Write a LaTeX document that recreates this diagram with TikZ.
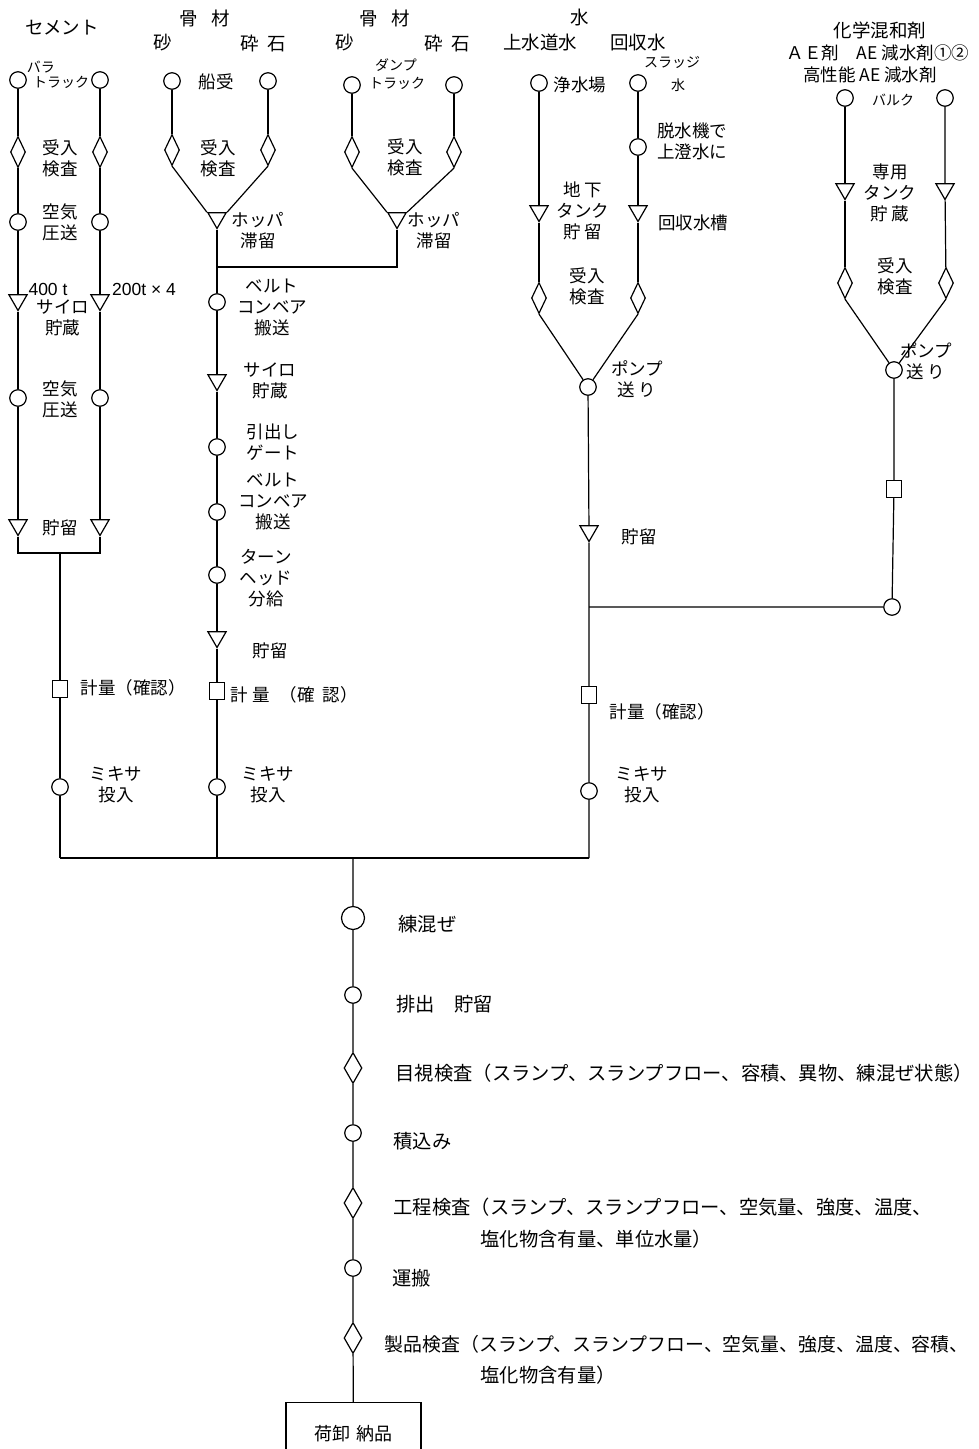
\documentclass[tikz,border=0pt]{standalone}
\usepackage{fontspec}
\usetikzlibrary{shapes.geometric}
\newfontfamily\jp{Noto Sans CJK JP}
\newfontfamily\lat{Liberation Sans}
\begin{document}
\begin{tikzpicture}[x=1pt,y=-1pt,line width=1.2pt,
  circ/.style={circle,draw,fill=white,minimum size=16.5pt,inner sep=0pt},
  bigc/.style={circle,draw,fill=white,minimum size=23pt,inner sep=0pt},
  dia/.style={diamond,draw,fill=white,minimum width=15pt,minimum height=31pt,inner sep=0pt},
  tri/.style={regular polygon,regular polygon sides=3,shape border rotate=180,draw,fill=white,minimum size=21pt,inner sep=0pt},
  sq/.style={rectangle,draw,fill=white,minimum width=15pt,minimum height=17pt,inner sep=0pt},
  lab/.style={font=\jp\fontsize{17.5}{21}\selectfont,align=center,inner sep=0pt},
  sm/.style={font=\jp\fontsize{14}{17}\selectfont,align=center,inner sep=0pt},
  hdr/.style={font=\jp\fontsize{18.5}{22}\selectfont,align=center,inner sep=0pt},
  num/.style={font=\lat\fontsize{17.5}{20}\selectfont,inner sep=0pt},
  big/.style={font=\jp\fontsize{19.3}{23}\selectfont,anchor=west,inner sep=0pt}]
\useasboundingbox (0,0) rectangle (978,1449);

%% ---------------- cement ----------------
\node[circ] (c1) at (18,80) {};
\node[circ] (c2) at (100,80) {};
\node[dia] (cd1) at (18,152) {};
\node[dia] (cd2) at (100,152) {};
\node[circ] (cc1) at (18,222) {};
\node[circ] (cc2) at (100,222) {};
\node[tri] (ct1) at (18,300) {};
\node[tri] (ct2) at (100,300) {};
\node[circ] (cc3) at (18,398) {};
\node[circ] (cc4) at (100,398) {};
\node[tri] (ct3) at (18,525) {};
\node[tri] (ct4) at (100,525) {};
\coordinate (cj1) at (18,553);
\coordinate (cj2) at (100,553);
\coordinate (cjm) at (60,553);
\node[sq] (cs) at (60,689) {};
\node[circ] (cm) at (60,787) {};
\coordinate (b1) at (60,858);
\draw (c1) -- (cd1) -- (cc1) -- (ct1) -- (cc3) -- (ct3) -- (cj1) -- (cj2) -- (ct4) -- (cc4) -- (ct2) -- (cc2) -- (cd2) -- (c2);
\draw (cjm) -- (cs) -- (cm) -- (b1);

\node[hdr] (tc) at (62,28) {セメント};
\node[sm] (tc1) at (41,67) {バラ};
\node[sm] (tc2) at (61,82) {トラック};
\node[lab] (tc3) at (60,158) {受入\\検査};
\node[lab] (tc4) at (60,222) {空気\\圧送};
\node[num] (tc5) at (48,289) {400 t};
\node[num] (tc6) at (144,289) {200t × 4};
\node[lab] (tc7) at (63,318) {サイロ\\貯蔵};
\node[lab] (tc8) at (60,399) {空気\\圧送};
\node[lab] (tc9) at (60,528) {貯留};
\node[lab,anchor=west] (tc10) at (80,688) {計量（確認）};
\node[lab] (tc11) at (116,785) {ミキサ\\投入};

%% ---------------- aggregate 1 ----------------
\node[circ] (a1) at (172,81) {};
\node[circ] (a2) at (268,81) {};
\node[dia] (ad1) at (172,150) {};
\node[dia] (ad2) at (268,150) {};
\node[tri] (at1) at (217,218) {};
\draw (a1) -- (ad1);
\draw (a2) -- (ad2);
\draw (ad1.south) -- (at1.corner 3);
\draw (ad2.south) -- (at1.corner 2);

%% ---------------- aggregate 2 ----------------
\node[circ] (a3) at (352,85) {};
\node[circ] (a4) at (454,85) {};
\node[dia] (ad3) at (352,152) {};
\node[dia] (ad4) at (454,152) {};
\node[tri] (at2) at (397,218) {};
\draw (a3) -- (ad3);
\draw (a4) -- (ad4);
\draw (ad3.south) -- (at2.corner 3);
\draw (ad4.south) -- (at2.corner 2);
\coordinate (aj2) at (397,267);
\coordinate (aj1) at (217,267);
\draw (at2) -- (aj2) -- (aj1);

%% aggregate main line
\node[circ] (am1) at (217,302) {};
\node[tri] (am2) at (217,380) {};
\node[circ] (am3) at (217,447) {};
\node[circ] (am4) at (217,512) {};
\node[circ] (am5) at (217,575) {};
\node[tri] (am6) at (217,637) {};
\node[sq] (as) at (217,691) {};
\node[circ] (amm) at (217,787) {};
\coordinate (b2) at (217,858);
\draw (at1) -- (am1) -- (am2) -- (am3) -- (am4) -- (am5) -- (am6) -- (as) -- (amm) -- (b2);

\node[hdr] (ta1) at (205,18) {骨\hspace{14pt}材};
\node[hdr] (ta2) at (163,43) {砂};
\node[hdr] (ta3) at (263,43) {砕\hspace{9pt}石};
\node[hdr] (ta4) at (385,18) {骨\hspace{14pt}材};
\node[hdr] (ta5) at (345,43) {砂};
\node[hdr] (ta6) at (447,43) {砕\hspace{9pt}石};
\node[lab] (ta7) at (216,82) {船受};
\node[lab] (ta8) at (218,158) {受入\\検査};
\node[lab] (ta9) at (258,231) {ホッパ\\滞留};
\node[sm] (ta10) at (396,65) {ダンプ};
\node[sm] (ta11) at (397,83) {トラック};
\node[lab] (ta12) at (405,157) {受入\\検査};
\node[lab] (ta13) at (434,231) {ホッパ\\滞留};
\node[lab] (ta14) at (272,307) {ベルト\\コンベア\\搬送};
\node[lab] (ta15) at (270,381) {サイロ\\貯蔵};
\node[lab] (ta16) at (273,442) {引出し\\ゲート};
\node[lab] (ta17) at (273,501) {ベルト\\コンベア\\搬送};
\node[lab] (ta18) at (266,578) {ターン\\ヘッド\\分給};
\node[lab] (ta19) at (270,651) {貯留};
\node[lab,anchor=west] (ta20) at (230,695) {計\hspace{4pt}量\hspace{10pt}（確\hspace{8pt}認）};
\node[lab] (ta21) at (268,785) {ミキサ\\投入};

%% ---------------- water ----------------
\node[circ] (w1) at (539,83) {};
\node[circ] (w2) at (638,83) {};
\node[circ] (w3) at (638,147) {};
\node[tri] (wt1) at (539,211) {};
\node[tri] (wt2) at (638,211) {};
\node[dia] (wd1) at (539,298) {};
\node[dia] (wd2) at (638,298) {};
\node[circ] (wp) at (588,387) {};
\node[tri] (wt3) at (589,531) {};
\coordinate (wj) at (589,607);
\node[sq] (ws) at (589,695) {};
\node[circ] (wm) at (589,791) {};
\coordinate (b3) at (589,858);
\draw (w1) -- (wt1) -- (wd1);
\draw (w2) -- (w3) -- (wt2) -- (wd2);
\draw (wd1.south) -- (wp);
\draw (wd2.south) -- (wp);
\draw (wp) -- (wt3) -- (wj) -- (ws) -- (wm) -- (b3);

\node[hdr] (tw1) at (580,17) {水};
\node[hdr] (tw2) at (540,42) {上水道水};
\node[hdr] (tw3) at (638,42) {回収水};
\node[lab] (tw4) at (580,85) {浄水場};
\node[sm] (tw5) at (672,62) {スラッジ};
\node[sm] (tw6) at (678,85) {水};
\node[lab] (tw7) at (692,141) {脱水機で\\上澄水に};
\node[lab] (tw8) at (583,211) {地 下\\タンク\\貯 留};
\node[lab] (tw9) at (693,223) {回収水槽};
\node[lab] (tw10) at (587,286) {受入\\検査};
\node[lab] (tw11) at (637,379) {ポンプ\\送 り};
\node[lab] (tw12) at (639,537) {貯留};
\node[lab,anchor=west] (tw13) at (609,712) {計量（確認）};
\node[lab] (tw14) at (642,785) {ミキサ\\投入};

%% ---------------- chemical admixture ----------------
\node[circ] (h1) at (845,98) {};
\node[circ] (h2) at (945,98) {};
\node[tri] (ht1) at (845,189) {};
\node[tri] (ht2) at (945,189) {};
\node[dia] (hd1) at (845,283) {};
\node[dia] (hd2) at (946,283) {};
\node[circ] (hp) at (894,370) {};
\node[sq] (hs) at (894,489) {};
\node[circ] (hc) at (892,607) {};
\draw (h1) -- (ht1) -- (hd1);
\draw (h2) -- (ht2) -- (hd2);
\draw (hd1.south) -- (hp);
\draw (hd2.south) -- (hp);
\draw (hp) -- (hs) -- (hc) -- (wj);

\node[hdr] (th1) at (880,30) {化学混和剤};
\node[lab] (th2) at (878,53) {ＡＥ剤　AE 減水剤①②};
\node[lab] (th3) at (870,75) {高性能 AE 減水剤};
\node[sm] (th4) at (893,100) {バルク};
\node[lab] (th5) at (890,193) {専用\\タンク\\貯 蔵};
\node[lab] (th6) at (895,276) {受入\\検査};
\node[lab] (th7) at (926,361) {ポンプ\\送 り};

%% ---------------- mixing and delivery ----------------
\coordinate (b0) at (353,858);
\draw (b1) -- (b3);
\node[bigc] (m1) at (353,918) {};
\node[circ] (m2) at (353,995) {};
\node[dia,minimum width=18pt] (m3) at (353,1068) {};
\node[circ] (m4) at (353,1133) {};
\node[dia,minimum width=18pt] (m5) at (353,1203) {};
\node[circ] (m6) at (353,1268) {};
\node[dia,minimum width=18pt] (m7) at (353,1338) {};
\node[draw,fill=white,minimum width=135pt,minimum height=62pt,inner sep=0pt,anchor=north,
      font=\jp\fontsize{18}{22}\selectfont] (box) at (353.5,1402) {荷卸\hspace{6pt}納品};
\draw (b0) -- (m1) -- (m2) -- (m3) -- (m4) -- (m5) -- (m6) -- (m7) -- (box);

\node[big] (tm1) at (398,924) {練混ぜ};
\node[big] (tm2) at (396,1004) {排出　貯留};
\node[big] (tm3) at (395,1073) {目視検査（スランプ、スランプフロー、容積、異物、練混ぜ状態）};
\node[big] (tm4) at (393,1141) {積込み};
\node[big] (tm5) at (393,1207) {工程検査（スランプ、スランプフロー、空気量、強度、温度、};
\node[big] (tm6) at (480,1239) {塩化物含有量、単位水量）};
\node[big] (tm7) at (392,1278) {運搬};
\node[big,font=\jp\fontsize{18.9}{23}\selectfont] (tm8) at (384,1344) {製品検査（スランプ、スランプフロー、空気量、強度、温度、容積、};
\node[big] (tm9) at (480,1375) {塩化物含有量）};
\end{tikzpicture}
\end{document}
